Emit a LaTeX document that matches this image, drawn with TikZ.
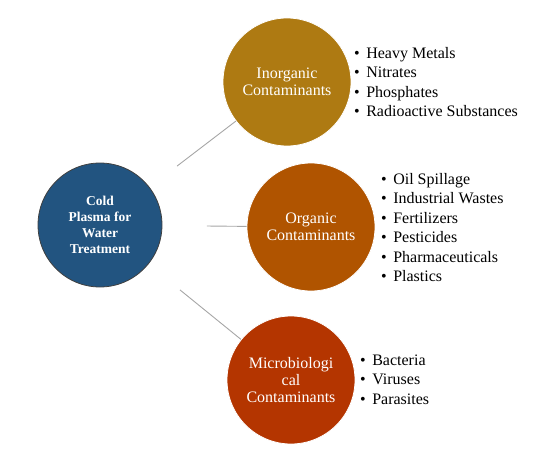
\documentclass[tikz,border=0pt]{standalone}
\usepackage{fontspec}
\setmainfont{Liberation Serif}
\usetikzlibrary{calc}
\definecolor{cblue}{HTML}{225480}
\definecolor{cgold}{HTML}{AE7A12}
\definecolor{corg}{HTML}{B05400}
\definecolor{cmic}{HTML}{B43500}
\definecolor{cline}{HTML}{A6A6A6}
\tikzset{
  circ/.style={circle, minimum size=128pt, inner sep=0pt, draw=white, line width=0.8pt,
    text=white, align=center, font=\fontsize{16}{17}\selectfont},
  hub/.style={circle, minimum size=124pt, inner sep=0pt, fill=cblue, draw=black!75, line width=0.8pt,
    text=white, align=center, font=\fontsize{13.5}{16}\selectfont\bfseries},
  listtext/.style={anchor=west, inner sep=0pt, align=left, font=\fontsize{16}{19.4}\selectfont},
  conn/.style={draw=cline, line width=0.9pt}
}
\newcommand{\bl}{\textbullet\hspace{6.5pt}}
\begin{document}
\begin{tikzpicture}[x=1pt,y=-1pt]
\useasboundingbox (0,0) rectangle (554,476);
\node[hub] (cold) at (100,225) {Cold\\Plasma for\\Water\\Treatment};
\node[circ, fill=cgold] (inorg) at (287,82) {Inorganic\\Contaminants};
\node[circ, fill=corg] (org) at (311,227) {Organic\\Contaminants};
\node[circ, fill=cmic] (mic) at (291,380) {Microbiologi\\cal\\Contaminants};
\node[listtext] (l1) at (354,82) {\bl Heavy Metals\\\bl Nitrates\\\bl Phosphates\\\bl Radioactive Substances};
\node[listtext] (l2) at (381,227.5) {\bl Oil Spillage\\\bl Industrial Wastes\\\bl Fertilizers\\\bl Pesticides\\\bl Pharmaceuticals\\\bl Plastics};
\node[listtext] (l3) at (360,379.5) {\bl Bacteria\\\bl Viruses\\\bl Parasites};
\draw[conn] ($(cold)!97pt!(inorg)$) -- (inorg);
\draw[conn] ($(cold)!107pt!(org)$) -- (org);
\draw[conn] ($(cold)!103pt!(mic)$) -- (mic);
\end{tikzpicture}
\end{document}
